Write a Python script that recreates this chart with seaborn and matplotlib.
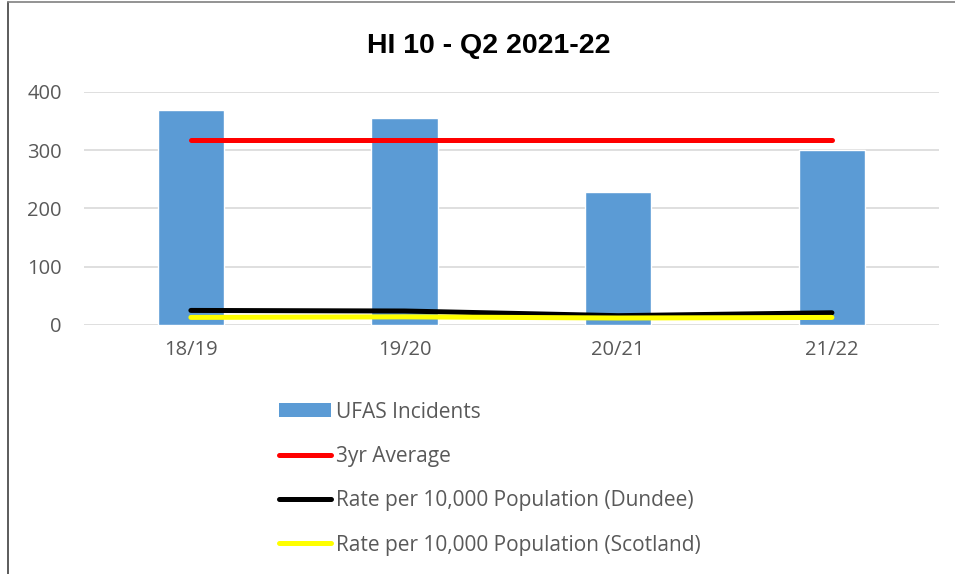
import numpy as np
import pandas as pd
import matplotlib
matplotlib.use("Agg")
import matplotlib.pyplot as plt
import seaborn as sns
from matplotlib.patches import Patch
from matplotlib.lines import Line2D

# =========================
# DATA
# =========================
YEARS = ["18/19", "19/20", "20/21", "21/22"]
UFAS_INCIDENTS = [369, 355, 228, 300]
AVG_3YR = [318, 318, 318, 318]
RATE_DUNDEE = [25, 24, 16, 21]
RATE_SCOTLAND = [13, 14, 12, 13]

TITLE = "HI 10 - Q2 2021-22"
LABELS = ["UFAS Incidents", "3yr Average",
          "Rate per 10,000 Population (Dundee)",
          "Rate per 10,000 Population (Scotland)"]

sns.set_theme(style="white")
plt.rcParams["font.family"] = ["Open Sans", "DejaVu Sans"]
TXT = "#595959"

df = pd.DataFrame({"year": YEARS, "ufas": UFAS_INCIDENTS, "avg": AVG_3YR,
                   "dundee": RATE_DUNDEE, "scotland": RATE_SCOTLAND})

fig = plt.figure(figsize=(9.55, 5.74), dpi=100)
ax = fig.add_axes([0.088, 0.4338, 0.895, 0.406])

sns.barplot(data=df, x="year", y="ufas", color="#5b9bd5", saturation=1,
            width=0.31, ax=ax, zorder=2)

lw = 3.6
for col, c in [("avg", "#ff0000"), ("dundee", "#000000"), ("scotland", "#ffff00")]:
    sns.lineplot(data=df, x="year", y=col, color=c, linewidth=lw, ax=ax,
                 zorder=3, solid_capstyle="round", legend=False)

ax.set_xlim(-0.5, 3.5)
ax.set_ylim(0, 400)
ax.set_yticks([0, 100, 200, 300, 400])
ax.yaxis.grid(True, color="#d9d9d9", linewidth=1.2, zorder=0)
ax.set_axisbelow(True)
for s in ax.spines.values():
    s.set_visible(False)
ax.set_xlabel("")
ax.set_ylabel("")
ax.tick_params(axis="both", length=0, labelsize=14.5, colors=TXT)
ax.tick_params(axis="x", pad=11)
ax.tick_params(axis="y", pad=16)

fig.text(0.512, 0.92, TITLE, ha="center", va="center", fontsize=20.5,
         fontweight="bold", color="black",
         family=["Liberation Sans", "DejaVu Sans"])

handles = [Patch(facecolor="#5b9bd5", edgecolor="none"),
           Line2D([0], [0], color="#ff0000", lw=lw, solid_capstyle="round"),
           Line2D([0], [0], color="#000000", lw=lw, solid_capstyle="round"),
           Line2D([0], [0], color="#ffff00", lw=lw, solid_capstyle="round")]
leg = fig.legend(handles, LABELS, loc="upper left", bbox_to_anchor=(0.272, 0.333),
                 frameon=False, fontsize=15, handlelength=2.5, handleheight=0.65,
                 handletextpad=0.25, labelspacing=1.12)
for t in leg.get_texts():
    t.set_color(TXT)

# outer chart border (partly cropped)
fig.add_artist(Line2D([0.008, 0.008], [0, 0.996], color="#404040", lw=1.2,
                      transform=fig.transFigure))
fig.add_artist(Line2D([0.008, 1], [0.996, 0.996], color="#808080", lw=1.2,
                      transform=fig.transFigure))

fig.savefig("out.png", dpi=100)
